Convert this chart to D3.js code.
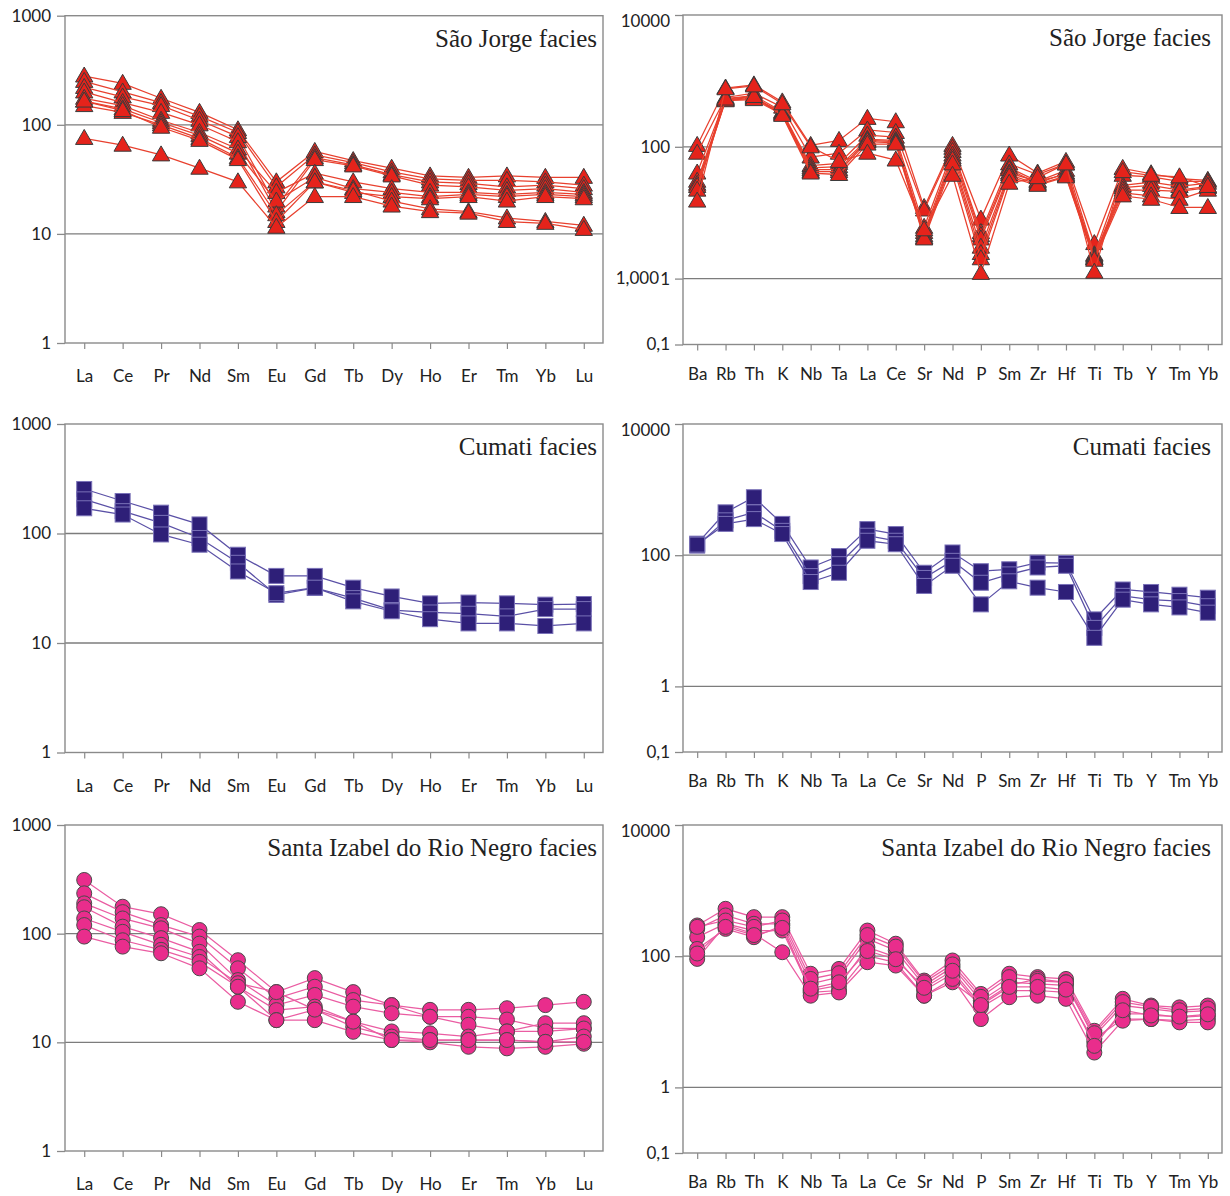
<!DOCTYPE html>
<html>
<head>
<meta charset="utf-8">
<script src="https://cdn.jsdelivr.net/npm/d3@7"></script>
<style>
  body { margin: 0; background: #ffffff; }
  svg { display: block; }
</style>
</head>
<body>
<svg id="fig" width="1230" height="1196"></svg>
<script>
// ---- element lists (x categories) ----
const reeElements = ["La","Ce","Pr","Nd","Sm","Eu","Gd","Tb","Dy","Ho","Er","Tm","Yb","Lu"];
const spiderElements = ["Ba","Rb","Th","K","Nb","Ta","La","Ce","Sr","Nd","P","Sm","Zr","Hf","Ti","Tb","Y","Tm","Yb"];

// ---- y tick values and labels ----
const reeTickValues = [1, 10, 100, 1000];
const reeTickLabels = ["1", "10", "100", "1000"];
const reeGridValues = [10, 100];
const spiderTickValues = [0.1, 1, 100, 10000];
const spiderTickLabels = ["0,1", "1", "100", "10000"];
const spiderGridValues = [1, 100];

// ---- facies names ----
const faciesNames = ["São Jorge facies", "Cumati facies", "Santa Izabel do Rio Negro facies"];

// ---- chondrite-normalised REE, São Jorge facies (one row per sample) ----
const saoJorgeREE = [
  [280, 240, 175, 130, 90, 30, 57, 47, 40, 34, 33, 34, 33, 33],
  [250, 200, 160, 120, 85, 27, 53, 45, 37, 32, 31, 31, 30, 28],
  [220, 180, 150, 110, 78, 18, 50, 43, 35, 30, 29, 27, 28, 26],
  [200, 160, 130, 100, 70, 16, 48, 42, 34, 28, 27, 25, 26, 24],
  [175, 150, 110, 85, 60, 24, 36, 30, 26, 24, 24, 23, 24, 23],
  [165, 140, 105, 80, 55, 20, 33, 26, 24, 22, 23, 22, 23, 22],
  [150, 130, 100, 75, 50, 15, 30, 24, 22, 21, 22, 20, 22, 21],
  [165, 135, 95, 72, 48, 13, 30, 25, 20, 17, 16, 14, 13, 12],
  [75, 65, 53, 40, 30, 11.5, 22, 22, 18, 16, 15.5, 13, 12.5, 11]
];

// ---- primitive-mantle-normalised spider data, São Jorge facies ----
const saoJorgeSpider = [
  [105, 780, 870, 480, 105, 125, 270, 240, 12, 105, 8, 75, 40, 60, 3.4, 47, 39, 33, 31],
  [80, 560, 650, 400, 70, 80, 180, 165, 11, 95, 5, 55, 38, 55, 2.3, 37, 35, 30, 30],
  [40, 540, 600, 340, 52, 56, 150, 140, 6, 85, 4.5, 48, 30, 44, 2.2, 26, 29, 25, 28],
  [30, 520, 560, 330, 48, 50, 130, 125, 5, 75, 4, 45, 28, 40, 2.1, 24, 26, 22, 25],
  [27, 510, 540, 320, 45, 45, 125, 120, 4.5, 68, 3, 40, 30, 38, 2.0, 22, 22, 21, 24],
  [25, 500, 520, 310, 42, 42, 120, 115, 4.2, 63, 2.4, 38, 27, 36, 2.0, 20, 18, 16, 22],
  [22, 530, 580, 300, 40, 38, 110, 110, 4.0, 55, 2.0, 35, 26, 35, 1.9, 18, 16, 12, 12],
  [15, 760, 840, 450, 100, 60, 80, 63, 5.5, 37, 1.2, 28, 34, 55, 1.25, 42, 37, 35, 25]
];

// ---- Cumati facies ----
const cumatiREE = [
  [255, 198, 155, 121, 64, 41, 41, 32, 26.6, 23, 23.4, 23, 22.4, 22.7],
  [205, 160, 125, 91, 54, 27.5, 31.8, 25.7, 20, 19, 18.5, 17.5, 20.4, 20.4],
  [170, 149, 98, 79, 45, 28.5, 32, 24, 19.5, 16.5, 15.1, 15.1, 14.3, 15.1]
];
const cumatiSpider = [
  [150, 450, 765, 300, 65, 97, 250, 210, 54, 110, 57, 61, 77, 76, 10.5, 30, 27.5, 25, 22.5],
  [140, 340, 450, 235, 48, 73, 198, 166, 45, 82, 38, 51, 65, 69, 7.8, 24, 21, 20, 16.7],
  [145, 300, 355, 210, 39, 54, 166, 147, 34, 69, 17.8, 40, 32, 27.5, 5.5, 21, 17.8, 16, 13.3]
];

// ---- Santa Izabel do Rio Negro facies ----
const santaIzabelREE = [
  [312, 177, 151, 108, 57, 29, 39, 29, 22, 19.9, 19.9, 20.6, 22, 23.6],
  [235, 158, 120, 94, 48, 25.4, 32.5, 24.5, 22, 17.2, 17.2, 16.2, 13.5, 13.4],
  [190, 138, 112, 81, 37.4, 22, 27.3, 21.3, 18.5, 17.2, 14.5, 12.6, 15, 15],
  [175, 116, 91, 68, 32.5, 19.8, 21.3, 15.5, 12.6, 12.1, 11.3, 12.6, 12.6, 13.4],
  [138, 104, 79, 61, 35, 29, 20, 13.9, 11.3, 10.5, 10.5, 10.5, 10.1, 11.3],
  [120, 87, 71, 55, 32.5, 16, 16, 12.5, 10.5, 10, 9.1, 8.8, 9.1, 9.7],
  [94, 76, 66, 48, 23.6, 16, 20, 15.5, 10.5, 10.5, 10.5, 10.5, 10.1, 10.1]
];
const santaIzabelSpider = [
  [294, 528, 394, 394, 54, 64, 246, 155, 42.5, 86, 26.6, 54, 48, 45, 7.3, 22.4, 17.7, 16.6, 17.7],
  [261, 418, 312, 312, 38, 48, 184, 122, 36, 68, 21, 40, 38, 36, 6.1, 17.7, 15.7, 14, 14.8],
  [195, 312, 246, 246, 30, 36, 137, 97, 30, 54, 16.6, 30, 30, 28, 4.9, 13.2, 13.2, 11.7, 12.4],
  [129, 261, 195, 294, 28, 30, 102, 80, 25, 40, 19, 36, 45, 40, 5.5, 11, 11, 10.4, 11],
  [91, 300, 220, 115, 25, 28, 81, 72, 25, 45, 11, 23.7, 25, 22.4, 3.4, 10.4, 11, 9.8, 9.8],
  [280, 350, 280, 350, 45, 55, 210, 140, 40, 75, 24, 48, 42, 40, 6.7, 20, 17, 15, 16],
  [110, 280, 210, 270, 32, 40, 120, 90, 33, 60, 18, 34, 34, 31, 4.3, 15, 12.5, 12, 13]
];

// ---- marker / line styles per facies ----
const styles = {
  triangle: { fill: "#e5231b", stroke: "#3b3b3b", line: "#e8402e" },
  square:   { fill: "#2e1f78", stroke: "#7a72b8", line: "#5a50a6" },
  circle:   { fill: "#e92d8c", stroke: "#4a4a4a", line: "#ea5ca2" }
};

const svg = d3.select("#fig");
const axisGrey = "#8a8a8a";
const labelFont = "Lato, 'Open Sans', 'DejaVu Sans', sans-serif";

function drawPanel(p) {
  const g = svg.append("g");
  const x = d3.scalePoint().domain(p.categories).range([p.x0, p.x1]).padding(0.5);
  const y = d3.scaleLog().domain(p.domain).range([p.y1, p.y0]);
  const st = styles[p.marker];

  // horizontal gridlines
  g.selectAll("line.grid").data(p.grid).join("line")
    .attr("class", "grid")
    .attr("x1", p.x0).attr("x2", p.x1)
    .attr("y1", d => y(d)).attr("y2", d => y(d))
    .attr("stroke", "#7c7c7c").attr("stroke-width", 1.3);

  // y axis
  const yAxis = g.append("g").attr("transform", `translate(${p.x0},0)`)
    .call(d3.axisLeft(y).tickValues(p.tickValues)
      .tickFormat((d, i) => p.tickLabels[i]).tickSize(8).tickPadding(p.yPad));
  yAxis.select(".domain").remove();
  yAxis.selectAll(".tick line").attr("stroke", axisGrey).attr("stroke-width", 1.3);
  yAxis.selectAll(".tick text")
    .attr("fill", "#222").style("font-family", labelFont).style("font-size", "17px")
    .attr("dy", (d) => d === 10000 ? "0.7em" : "0.32em");

  // second label sharing the 1 tick (top spider panel)
  if (p.extraLabel) {
    g.append("text")
      .attr("x", p.x0 - p.yPad - 8 - 11).attr("y", y(p.extraLabel.value))
      .attr("dy", "0.32em").attr("text-anchor", "end")
      .attr("fill", "#222").style("font-family", labelFont).style("font-size", "17px")
      .text(p.extraLabel.text);
  }

  // x axis
  const xAxis = g.append("g").attr("transform", `translate(0,${p.y1})`)
    .call(d3.axisBottom(x).tickSize(6).tickPadding(p.xPad));
  xAxis.select(".domain").remove();
  xAxis.selectAll(".tick line").attr("stroke", axisGrey).attr("stroke-width", 1.2);
  xAxis.selectAll(".tick text")
    .attr("fill", "#222").style("font-family", labelFont).style("font-size", "17px");

  // plot frame
  g.append("rect")
    .attr("x", p.x0).attr("y", p.y0)
    .attr("width", p.x1 - p.x0).attr("height", p.y1 - p.y0)
    .attr("fill", "none").attr("stroke", axisGrey).attr("stroke-width", 1.4);

  // samples: line then markers, one sample at a time
  const line = d3.line().x((d, i) => x(p.categories[i])).y(d => y(d));
  const tri = d3.symbol().type(d3.symbolTriangle).size(130);
  p.series.forEach(row => {
    const s = g.append("g");
    s.append("path").attr("d", line(row))
      .attr("fill", "none").attr("stroke", st.line).attr("stroke-width", 1.25);
    const pts = s.selectAll(".m").data(row).join(
      enter => {
        if (p.marker === "triangle") {
          return enter.append("path").attr("d", tri)
            .attr("transform", (d, i) => `translate(${x(p.categories[i])},${y(d) + 1})`);
        } else if (p.marker === "square") {
          return enter.append("rect").attr("width", 15).attr("height", 15)
            .attr("x", (d, i) => x(p.categories[i]) - 7.5).attr("y", d => y(d) - 7.5);
        } else {
          return enter.append("circle").attr("r", 7.5)
            .attr("cx", (d, i) => x(p.categories[i])).attr("cy", d => y(d));
        }
      });
    pts.attr("fill", st.fill).attr("stroke", st.stroke).attr("stroke-width", 1);
  });

  // facies name
  g.append("text")
    .attr("x", p.x1 - p.titleInset).attr("y", p.y0 + 31)
    .attr("text-anchor", "end")
    .style("font-family", "'Liberation Serif', 'Times New Roman', serif")
    .style("font-size", "25px").attr("fill", "#222")
    .text(p.title);
}

const leftBase = { categories: reeElements, domain: [1, 1000], tickValues: reeTickValues,
  tickLabels: reeTickLabels, grid: reeGridValues, x0: 65, x1: 603, yPad: 6, xPad: 21, titleInset: 6 };
const rightBase = { categories: spiderElements, domain: [0.1, 10000], tickValues: spiderTickValues,
  tickLabels: spiderTickLabels, grid: spiderGridValues, x0: 683, x1: 1222, yPad: 5, xPad: 17, titleInset: 11 };

const panels = [
  Object.assign({}, leftBase,  { y0: 15.7, y1: 343,   series: saoJorgeREE,      marker: "triangle", title: faciesNames[0] }),
  Object.assign({}, rightBase, { y0: 15,   y1: 344.5, series: saoJorgeSpider,   marker: "triangle", title: faciesNames[0],
                                 extraLabel: { value: 1, text: "1,000" } }),
  Object.assign({}, leftBase,  { y0: 424,  y1: 752.5, series: cumatiREE,        marker: "square",   title: faciesNames[1] }),
  Object.assign({}, rightBase, { y0: 424,  y1: 752,   series: cumatiSpider,     marker: "square",   title: faciesNames[1] }),
  Object.assign({}, leftBase,  { y0: 825,  y1: 1151,  series: santaIzabelREE,   marker: "circle",   title: faciesNames[2] }),
  Object.assign({}, rightBase, { y0: 825,  y1: 1153,  series: santaIzabelSpider, marker: "circle",  title: faciesNames[2] })
];

panels.forEach(drawPanel);
</script>
</body>
</html>
